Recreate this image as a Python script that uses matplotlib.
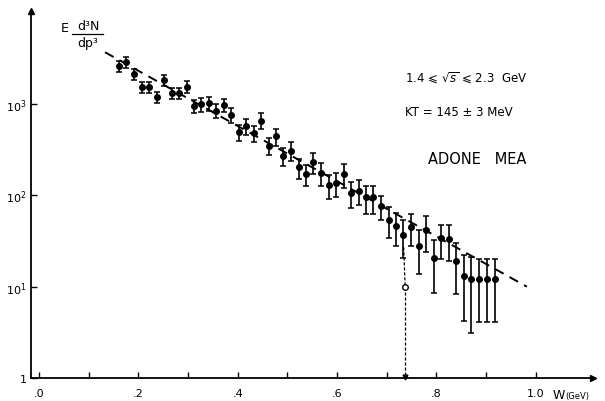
import matplotlib
import matplotlib.pyplot as plt
import numpy as np

matplotlib.use('Agg')

# data
w = [0.161, 0.176, 0.192, 0.207, 0.222, 0.237, 0.252, 0.267, 0.282, 0.297,
     0.312, 0.327, 0.342, 0.357, 0.372, 0.387, 0.402, 0.417, 0.432, 0.447,
     0.463, 0.478, 0.492, 0.507, 0.523, 0.538, 0.552, 0.567, 0.583, 0.598,
     0.613, 0.628, 0.644, 0.658, 0.673, 0.689, 0.704, 0.719, 0.733, 0.748,
     0.764, 0.779, 0.795, 0.810, 0.825, 0.840, 0.856, 0.870, 0.886, 0.901,
     0.917]
yield_ = [2630, 2870, 2140, 1530, 1530, 1190, 1850, 1320, 1320, 1550,
          960, 1000, 1020, 850, 980, 760, 490, 570, 480, 660,
          350, 444, 272, 310, 203, 172, 230, 176, 130, 137,
          172, 106, 113, 95, 95, 76, 54, 46, 37, 45,
          27.7, 42, 20.6, 34, 33, 19.3, 13.2, 12.1, 12.1, 12.1,
          12.1]
err = [370, 400, 300, 220, 220, 170, 260, 190, 190, 220,
       160, 170, 170, 150, 170, 140, 95, 110, 95, 130,
       75, 95, 60, 70, 50, 45, 60, 48, 38, 40,
       50, 33, 35, 32, 32, 22, 20, 18, 16.5, 17,
       14, 18, 12, 14, 14, 11, 9, 9, 8, 8,
       8]

# exponential fit (straight on log scale), KT = 145 MeV
fit_w = [0.133, 0.982]
fit_n = [3700, 10]

# single open point with its upper limit drop
open_w = 0.737
open_n = 10
open_top = 27

xticks = [0.0, 0.1, 0.2, 0.3, 0.4, 0.5, 0.6, 0.7, 0.8, 0.9, 1.0]
xlabels = ['.0', '', '.2', '', '.4', '', '.6', '', '.8', '', '1.0']
yticks = [1, 10, 100, 1000]
ylabels = ['1', '10$^1$', '10$^2$', '10$^3$']

W, H = 605, 402
fig = plt.figure(figsize=(W / 100, H / 100), dpi=100)
ax = fig.add_axes([31 / W, 23 / H, (593 - 31) / W, (379 - 12) / H])

ax.set_yscale('log')
ax.set_xlim(-0.016, 1.115)
ax.set_ylim(1, 10 ** 4.02)

ax.plot(fit_w, fit_n, color='k', lw=1.4, dashes=(5, 3.5))

ax.errorbar(w, yield_, yerr=err, fmt='o', color='k', ms=4,
            elinewidth=1.2, capsize=2.4, capthick=1.1)

ax.plot([open_w - 0.003, open_w], [open_top, open_n], color='k', lw=0.9,
        dashes=(2.5, 1.5))
ax.plot([open_w, open_w], [open_n, 1], color='k', lw=0.9, dashes=(2.5, 1.5))
ax.plot(open_w, open_n, 'o', mfc='white', mec='k', ms=4, mew=1)
ax.plot(open_w, 1.03, 'v', color='k', ms=3.5, clip_on=False)

for s in ['top', 'right']:
    ax.spines[s].set_visible(False)
for s in ['left', 'bottom']:
    ax.spines[s].set_linewidth(1.3)
ax.plot(1, 0, '>k', ms=4, transform=ax.transAxes, clip_on=False)
ax.plot(0, 1, '^k', ms=4, transform=ax.transAxes, clip_on=False)

ax.set_xticks(xticks)
ax.set_xticklabels(xlabels)
ax.set_yticks(yticks)
ax.set_yticklabels(ylabels)
ax.minorticks_off()
ax.tick_params(axis='x', direction='in', length=4, width=1, pad=7, labelsize=8)
ax.tick_params(axis='y', direction='in', length=4, width=1, pad=3, labelsize=8)

# y label as a fraction
fig.text(61 / W, 1 - 29 / H, 'E', fontsize=9, va='center', ha='left')
fig.text(88 / W, 1 - 27 / H, 'd³N', fontsize=9, va='center', ha='center')
fig.text(88 / W, 1 - 43 / H, 'dp³', fontsize=9, va='center', ha='center')
fig.add_artist(plt.Line2D([72 / W, 103 / W], [1 - 35 / H, 1 - 35 / H],
                          color='k', lw=0.9))

fig.text(553 / W, 1 - 396 / H, 'W', fontsize=9, va='center', ha='left')
fig.text(565 / W, 1 - 397 / H, '(GeV)', fontsize=6, va='center', ha='left')

fig.text(405 / W, 1 - 78 / H, '1.4 ⩽ $\\sqrt{s}$ ⩽ 2.3  GeV', fontsize=8.5,
         va='center', ha='left')
fig.text(405 / W, 1 - 112 / H, 'KT = 145 ± 3 MeV', fontsize=8.5,
         va='center', ha='left')
fig.text(428 / W, 1 - 160 / H, 'ADONE   MEA', fontsize=10.5,
         va='center', ha='left')

fig.savefig('out.png', dpi=100)
